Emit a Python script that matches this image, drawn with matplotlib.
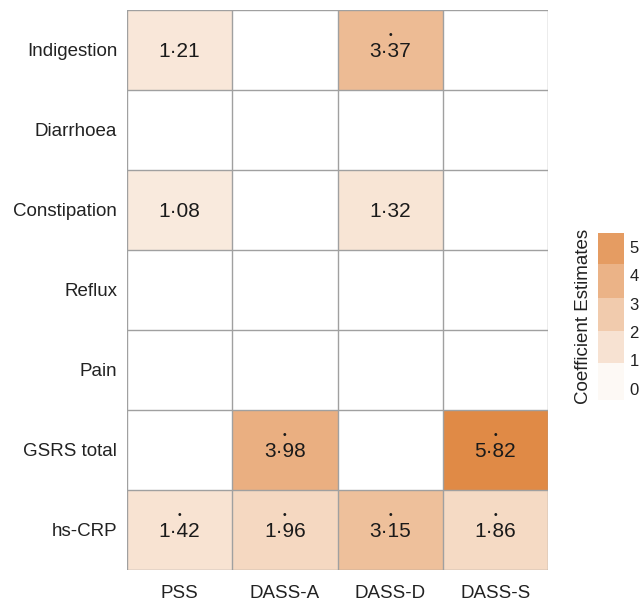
import numpy as np
import matplotlib
matplotlib.use("Agg")
import matplotlib.pyplot as plt
from matplotlib.colors import LinearSegmentedColormap, BoundaryNorm, ListedColormap
import matplotlib.colorbar as mcolorbar

plt.rcParams['font.family'] = ['Liberation Sans', 'DejaVu Sans']

rows = ["Indigestion", "Diarrhoea", "Constipation", "Reflux", "Pain", "GSRS total", "hs-CRP"]
cols = ["PSS", "DASS-A", "DASS-D", "DASS-S"]
nan = np.nan
values = np.array([
    [1.21, nan, 3.37, nan],
    [nan, nan, nan, nan],
    [1.08, nan, 1.32, nan],
    [nan, nan, nan, nan],
    [nan, nan, nan, nan],
    [nan, 3.98, nan, 5.82],
    [1.42, 1.96, 3.15, 1.86],
])
signif = np.array([
    [0, 0, 1, 0],
    [0, 0, 0, 0],
    [0, 0, 0, 0],
    [0, 0, 0, 0],
    [0, 0, 0, 0],
    [0, 1, 0, 1],
    [1, 1, 1, 1],
], dtype=bool)
cbar_ticks = [0, 1, 2, 3, 4, 5]

cmap = LinearSegmentedColormap.from_list("or", ["#ffffff", "#e08944"], N=256)
vmin, vmax = 0.0, 5.9

fig = plt.figure(figsize=(6.43, 6.08), dpi=100)
ax = fig.add_axes([127/643, 1-570/608, 421/643, 560/608])
masked = np.ma.masked_invalid(values)
ax.set_facecolor("white")
ax.pcolormesh(masked, cmap=cmap, vmin=vmin, vmax=vmax, edgecolors="none")
nr, nc = values.shape
for i in range(nr + 1):
    ax.axhline(i, color="#a0a0a0", lw=1.0)
for j in range(nc + 1):
    ax.axvline(j, color="#a0a0a0", lw=1.0)
ax.set_xlim(0, nc)
ax.set_ylim(nr, 0)
for i in range(nr):
    for j in range(nc):
        v = values[i, j]
        if not np.isnan(v):
            ax.text(j + 0.5, i + 0.52, f"{v:.2f}".replace(".", "\u00b7"),
                    ha="center", va="center", fontsize=15, color="#1a1a1a")
            if signif[i, j]:
                ax.text(j + 0.5, i + 0.31, "\u2022", ha="center", va="center",
                        fontsize=7.5, color="#1a1a1a")
ax.set_xticks(np.arange(nc) + 0.5)
ax.set_xticklabels(cols, fontsize=13.5, color="#222222")
ax.set_yticks(np.arange(nr) + 0.5)
ax.set_yticklabels(rows, fontsize=13.5, color="#222222")
ax.tick_params(length=0, pad=7)
ax.tick_params(axis="x", pad=11)
for s in ax.spines.values():
    s.set_visible(False)

# stepped colour legend
bounds = [-0.4, 0.9, 2.05, 3.2, 4.4, 5.5]
mids = [0.3, 1.45, 2.6, 3.8, 4.95]
step_cmap = ListedColormap([cmap((m - vmin) / (vmax - vmin)) for m in mids])
norm = BoundaryNorm(bounds, step_cmap.N)
cax = fig.add_axes([598/643, 1-400/608, 26/643, 167/608])
cb = mcolorbar.ColorbarBase(cax, cmap=step_cmap, norm=norm, boundaries=bounds,
                            spacing="proportional", ticks=cbar_ticks)
cb.outline.set_visible(False)
cb.ax.minorticks_off()
cb.ax.tick_params(which="both", length=0, labelsize=12, pad=4)
cb.ax.set_yticks(cbar_ticks)
cb.ax.set_yticklabels([str(t) for t in cbar_ticks], color="#222222")
cb.ax.yaxis.set_label_position("left")
cb.set_label("Coefficient Estimates", fontsize=13.5, labelpad=4, color="#222222")

fig.savefig("out.png", dpi=100)
